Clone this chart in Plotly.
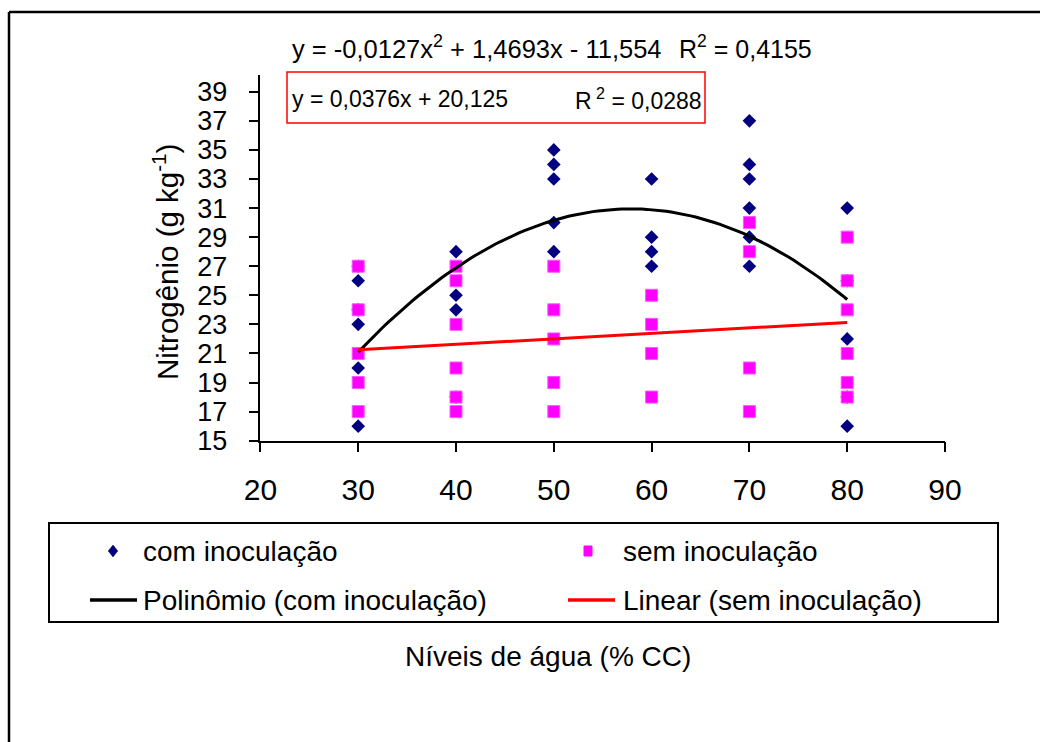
import numpy as np
import plotly.graph_objects as go

W, H = 1040, 742

# ---------------- data ----------------
levels = [30, 40, 50, 60, 70, 80]
com_values = [
    [27, 26, 24, 23, 20, 16],
    [28, 25, 24, 18],
    [35, 34, 33, 30, 28],
    [33, 29, 28, 27],
    [37, 34, 33, 31, 29, 27],
    [31, 26, 22, 18, 16],
]
sem_values = [
    [27, 24, 21, 19, 17],
    [27, 26, 23, 20, 18, 17],
    [27, 24, 22, 19, 17],
    [25, 23, 21, 18],
    [30, 28, 20, 17],
    [29, 26, 24, 21, 19, 18],
]
poly_coefs = [-0.0127, 1.4693, -11.554]   # trendline printed on the chart
lin_coefs = [0.0376, 20.125]               # trendline printed on the chart
trend_span = [30, 80]
x_ticks = [20, 30, 40, 50, 60, 70, 80, 90]
y_ticks = list(range(15, 41, 2))

com_x = [lv for lv, vals in zip(levels, com_values) for _ in vals]
com_y = [v for vals in com_values for v in vals]
sem_x = [lv for lv, vals in zip(levels, sem_values) for _ in vals]
sem_y = [v for vals in sem_values for v in vals]

tx = np.linspace(trend_span[0], trend_span[1], 101)
poly_y = np.polyval(poly_coefs, tx)
lin_y = np.polyval(lin_coefs, tx)

FONT = "Liberation Sans, Arial, sans-serif"


def px(x):
    return x / W


def py(y):
    return 1 - y / H


fig = go.Figure()
fig.add_trace(go.Scatter(x=com_x, y=com_y, mode="markers", name="com inoculação",
                         marker=dict(symbol="diamond", size=10.5, color="#000080",
                                     line=dict(width=0))))
fig.add_trace(go.Scatter(x=sem_x, y=sem_y, mode="markers", name="sem inoculação",
                         marker=dict(symbol="square", size=12, color="#FF00FF",
                                     line=dict(width=1, color="#FF55FF"))))
fig.add_trace(go.Scatter(x=tx, y=poly_y, mode="lines", name="Polinômio (com inoculação)",
                         line=dict(color="black", width=3)))
fig.add_trace(go.Scatter(x=tx, y=lin_y, mode="lines", name="Linear (sem inoculação)",
                         line=dict(color="#FF0000", width=3)))

shapes = []
# outer chart border (only left + top edges are visible in the reference)
shapes.append(dict(type="line", xref="paper", yref="paper",
                   x0=px(9), y0=py(12), x1=px(9), y1=0,
                   line=dict(color="black", width=2.5)))
shapes.append(dict(type="line", xref="paper", yref="paper",
                   x0=px(9), y0=py(12), x1=1, y1=py(12),
                   line=dict(color="black", width=2.5)))
# red box around linear equation
shapes.append(dict(type="rect", xref="paper", yref="paper",
                   x0=px(287), y0=py(72), x1=px(705), y1=py(123),
                   line=dict(color="#FF0000", width=1.5)))
# legend box
shapes.append(dict(type="rect", xref="paper", yref="paper",
                   x0=px(49), y0=py(523), x1=px(998), y1=py(622),
                   line=dict(color="black", width=2)))


def diamond(cx, cy, r, color):
    path = "M {} {} L {} {} L {} {} L {} {} Z".format(
        px(cx), py(cy - r), px(cx + r * 0.8), py(cy), px(cx), py(cy + r), px(cx - r * 0.8), py(cy))
    return dict(type="path", xref="paper", yref="paper", path=path,
                fillcolor=color, line=dict(color=color, width=0.5))


shapes.append(diamond(113, 551, 6, "#000080"))
shapes.append(dict(type="rect", xref="paper", yref="paper",
                   x0=px(584), y0=py(546), x1=px(592), y1=py(556),
                   fillcolor="#FF00FF", line=dict(color="#FF00FF", width=1)))
shapes.append(dict(type="line", xref="paper", yref="paper",
                   x0=px(90), y0=py(600), x1=px(137), y1=py(600),
                   line=dict(color="black", width=3.5)))
shapes.append(dict(type="line", xref="paper", yref="paper",
                   x0=px(568), y0=py(600), x1=px(615), y1=py(600),
                   line=dict(color="#FF0000", width=3.5)))

ann = []


def text(x, y, s, size, anchor="left", angle=0):
    ann.append(dict(x=px(x), y=py(y), xref="paper", yref="paper", text=s,
                    showarrow=False, xanchor=anchor, yanchor="middle",
                    textangle=angle, font=dict(family=FONT, size=size, color="black")))


# equations
text(290, 47, "y = -0,0127x<sup>2</sup> + 1,4693x - 11,554", 25.5)
text(677, 47, "R<sup>2</sup> = 0,4155", 25)
text(290, 99, "y = 0,0376x + 20,125", 23)
text(573, 99, "R<sup> 2</sup> = 0,0288", 23)
# legend texts
text(141, 551, "com inoculação", 28)
text(621, 551, "sem inoculação", 28)
text(141, 600, "Polinômio (com inoculação)", 28)
text(621, 600, "Linear (sem inoculação)", 28)
# axis titles
text(548, 656, "Níveis de água (% CC)", 28, anchor="center")
text(165, 262, "Nitrogênio (g kg<sup>-1</sup>)", 29.5, anchor="center", angle=-90)

fig.update_layout(
    width=W, height=H,
    margin=dict(l=0, r=0, t=0, b=0, pad=0, autoexpand=False),
    paper_bgcolor="white", plot_bgcolor="white",
    showlegend=False,
    font=dict(family=FONT, color="black"),
    shapes=shapes, annotations=ann,
    xaxis=dict(domain=[px(260.4), px(945)], range=[20, 90],
               tickmode="array", tickvals=x_ticks, automargin=False,
               showline=True, linecolor="black", linewidth=1.5,
               ticks="outside", ticklen=10, tickwidth=1.5, tickcolor="black",
               showgrid=False, zeroline=False, ticklabelstandoff=12,
               tickfont=dict(family=FONT, size=30, color="black")),
    yaxis=dict(domain=[py(440.7), py(75)], range=[15, 40.15],
               tickmode="array", tickvals=y_ticks, automargin=False,
               showline=True, linecolor="black", linewidth=1.5,
               ticks="outside", ticklen=10, tickwidth=1.5, tickcolor="black",
               showgrid=False, zeroline=False, ticklabelstandoff=16,
               tickfont=dict(family=FONT, size=27, color="black")),
)

fig.write_html("out.html")
